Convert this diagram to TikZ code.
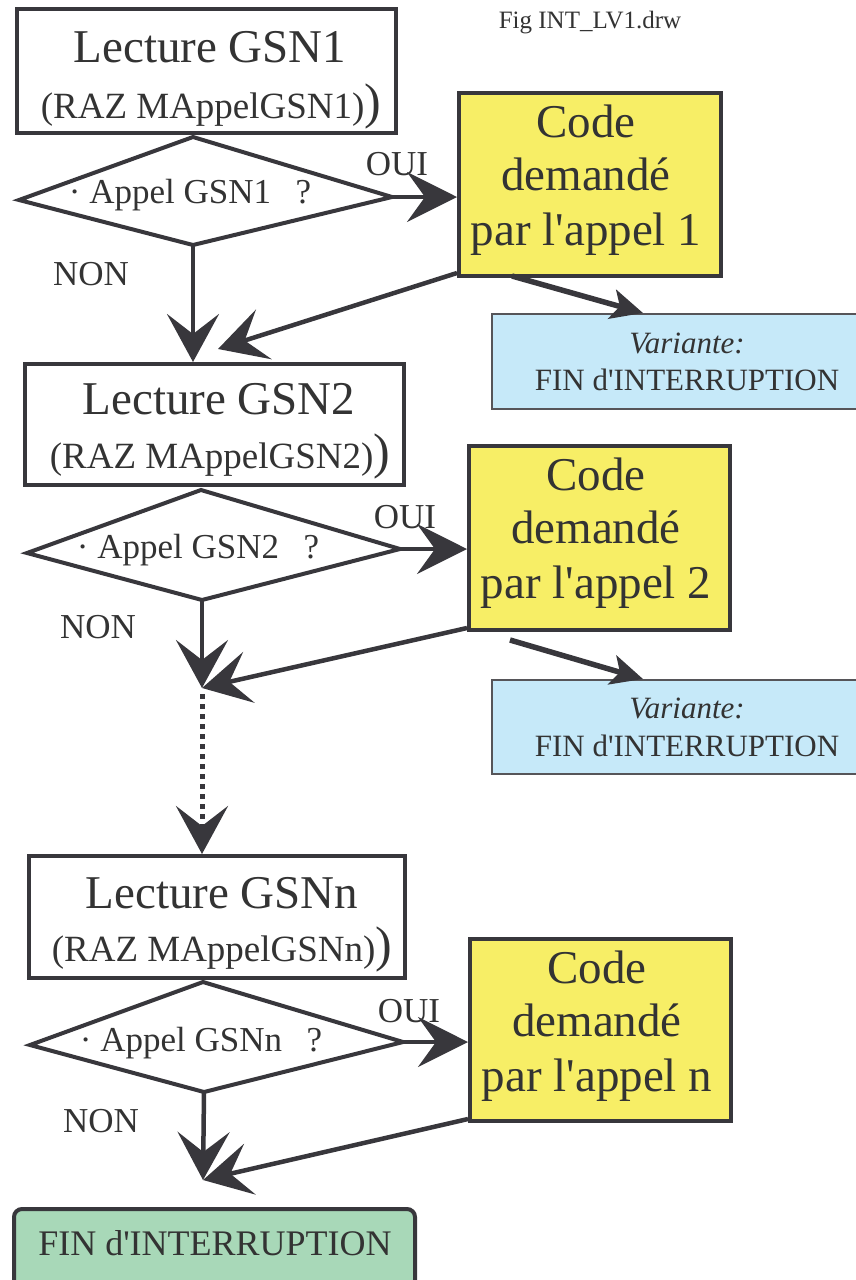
\documentclass[tikz,border=0pt]{standalone}
\usepackage{fontspec}
\setmainfont{Liberation Serif}
\usetikzlibrary{arrows.meta}
\definecolor{ink}{HTML}{38373C}
\definecolor{txtc}{HTML}{333333}
\definecolor{yel}{HTML}{F7EE66}
\definecolor{blu}{HTML}{C6E9F9}
\definecolor{grn}{HTML}{A8D8B8}
\newcommand{\fsz}[1]{\fontsize{#1}{#1}\selectfont}
\newcommand{\sq}{\textquotesingle}
\begin{document}
\begin{tikzpicture}[x=1pt,y=-1pt,
  box/.style={draw=ink, line width=4pt, inner sep=0pt, fill=white},
  ybox/.style={draw=ink, line width=4pt, inner sep=0pt, fill=yel},
  bbox/.style={draw=ink!85, line width=2pt, inner sep=0pt, fill=blu},
  gbox/.style={draw=ink, line width=4pt, inner sep=0pt, fill=grn, rounded corners=8pt},
  dia/.style={draw=ink, line width=4pt, fill=white},
  txt/.style={text=txtc, inner sep=0pt, anchor=base},
  big/.style={txt, font=\fsz{47}},
  mid/.style={txt, font=\fsz{35}},
  raz/.style={txt, font=\fsz{37}},
  sml/.style={txt, font=\fsz{31}},
  conn/.style={draw=ink, line width=4.5pt, -{Stealth[length=48pt,width=52pt,inset=20pt]}},
  oui/.style={draw=ink, line width=3.5pt, -{Stealth[length=50pt,width=50pt,inset=18pt]}},
  var/.style={draw=ink, line width=5.5pt, -{Stealth[length=32pt,width=30pt,inset=8pt]}},
  dots/.style={draw=ink, line width=5pt, dash pattern=on 5pt off 5pt, -{Stealth[length=48pt,width=52pt,inset=20pt]}}
]
\useasboundingbox (0,0) rectangle (856,1280);

% title
\node[txt, font=\fsz{25}] (fig) at (590,28) {Fig INT\_LV1.drw};

% ---------- section 1 ----------
\node[box, minimum width=379pt, minimum height=124pt] (b1) at (206.5,71) {};
\node[big] (t1a) at (210,62) {Lecture GSN1};
\node[raz] (t1b) at (211,118) {(RAZ MAppelGSN1){\fsz{50})}};
\coordinate (d1l) at (19,200);
\coordinate (d1t) at (193,137);
\coordinate (d1r) at (392,197);
\coordinate (d1b) at (193,245);
\draw[dia] (d1l) -- (d1t) -- (d1r) -- (d1b) -- cycle;
\node[mid] (dt1) at (190,203) {· Appel GSN1\hspace{0.7em}?};
\node[mid] (o1) at (397,175) {OUI};
\node[mid] (n1) at (91,285) {NON};
\node[ybox, minimum width=262pt, minimum height=183pt] (y1) at (590,184.5) {};
\node[big] (y1a) at (586,137) {Code};
\node[big] (y1b) at (586,190) {demandé};
\node[big] (y1c) at (586,245) {par l\sq appel 1};
\node[bbox, minimum width=377pt, minimum height=95pt] (v1) at (680.5,361.5) {};
\node[sml, font=\fsz{31}\itshape] (v1a) at (687,353) {Variante:};
\node[sml] (v1b) at (687,390) {FIN d\sq INTERRUPTION};
\coordinate (s1) at (457,273);
\coordinate (m1) at (218,349);
\coordinate (va1) at (512,276);
\coordinate (vb1) at (643,313);
\draw[oui] (d1r) -- (d1r -| y1.west);
\draw[conn] (s1) -- (m1);
\draw[var] (va1) -- (vb1);

% ---------- section 2 ----------
\node[box, minimum width=379pt, minimum height=121pt] (b2) at (214.5,424.5) {};
\draw[conn] (d1b) -- (d1b |- b2.north);
\node[big] (t2a) at (219,414) {Lecture GSN2};
\node[raz] (t2b) at (220,468) {(RAZ MAppelGSN2){\fsz{50})}};
\coordinate (d2l) at (27,553);
\coordinate (d2t) at (201,490);
\coordinate (d2r) at (400,549);
\coordinate (d2b) at (202,600);
\draw[dia] (d2l) -- (d2t) -- (d2r) -- (d2b) -- cycle;
\node[mid] (dt2) at (198,558) {· Appel GSN2\hspace{0.7em}?};
\node[mid] (o2) at (405,528) {OUI};
\node[mid] (n2) at (98,638) {NON};
\node[ybox, minimum width=261pt, minimum height=184pt] (y2) at (599.5,538) {};
\node[big] (y2a) at (596,490) {Code};
\node[big] (y2b) at (596,543) {demandé};
\node[big] (y2c) at (596,598) {par l\sq appel 2};
\node[bbox, minimum width=377pt, minimum height=94pt] (v2) at (680.5,727) {};
\node[sml, font=\fsz{31}\itshape] (v2a) at (687,718) {Variante:};
\node[sml] (v2b) at (687,756) {FIN d\sq INTERRUPTION};
\coordinate (s2) at (467,628);
\coordinate (m2) at (202,688);
\coordinate (va2) at (510,640);
\coordinate (vb2) at (643,679);
\draw[oui] (d2r) -- (d2r -| y2.west);
\draw[conn] (d2b) -- (m2);
\draw[conn] (s2) -- (m2);
\draw[var] (va2) -- (vb2);

% ---------- section 3 ----------
\node[box, minimum width=376pt, minimum height=122pt] (b3) at (217,917) {};
\coordinate (m2b) at (202,694);
\draw[dots] (m2b) -- (m2b |- b3.north);
\node[big] (t3a) at (222,908) {Lecture GSNn};
\node[raz] (t3b) at (222,961) {(RAZ MAppelGSNn){\fsz{50})}};
\coordinate (d3l) at (30,1045);
\coordinate (d3t) at (203,982);
\coordinate (d3r) at (403,1042);
\coordinate (d3b) at (204,1092);
\draw[dia] (d3l) -- (d3t) -- (d3r) -- (d3b) -- cycle;
\node[mid] (dt3) at (201,1051) {· Appel GSNn\hspace{0.7em}?};
\node[mid] (o3) at (409,1022) {OUI};
\node[mid] (n3) at (101,1132) {NON};
\node[ybox, minimum width=261pt, minimum height=182pt] (y3) at (600.5,1030) {};
\node[big] (y3a) at (597,983) {Code};
\node[big] (y3b) at (597,1036) {demandé};
\node[big] (y3c) at (597,1091) {par l\sq appel n};
\coordinate (s3) at (468,1119);
\coordinate (m3) at (203,1180);
\draw[oui] (d3r) -- (d3r -| y3.west);
\draw[conn] (d3b) -- (m3);
\draw[conn] (s3) -- (m3);

% ---------- end ----------
\node[gbox, minimum width=401pt, minimum height=79pt] (fin) at (214.5,1248.5) {};
\node[txt, font=\fsz{36}] (fint) at (215,1255) {FIN d\sq INTERRUPTION};
\end{tikzpicture}
\end{document}
